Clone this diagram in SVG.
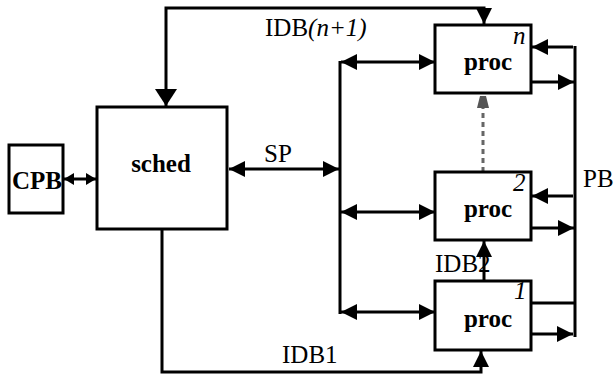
<svg xmlns="http://www.w3.org/2000/svg" width="615" height="375" viewBox="0 0 615 375">
  <style>
    .box { fill: #fff; stroke: #000; stroke-width: 3; }
    .wire { fill: none; stroke: #000; stroke-width: 3; }
    .dash { fill: none; stroke: #666; stroke-width: 3; stroke-dasharray: 5 4; }
    .lbl { font-family: "Liberation Serif", "Times New Roman", serif; font-size: 25px; fill: #000; }
    .bold { font-weight: bold; }
    .it { font-style: italic; }
  </style>
  <defs>
    <marker id="arr" markerUnits="userSpaceOnUse" viewBox="0 0 16 16" markerWidth="16" markerHeight="16" refX="16" refY="8" orient="auto-start-reverse">
      <path d="M0,0 L16,8 L0,16 z" fill="#000"/>
    </marker>
    <marker id="arrBig" markerUnits="userSpaceOnUse" viewBox="0 0 17 22" markerWidth="17" markerHeight="22" refX="17" refY="11" orient="auto-start-reverse">
      <path d="M0,0 L17,11 L0,22 z" fill="#000"/>
    </marker>
    <marker id="arrSmall" markerUnits="userSpaceOnUse" viewBox="0 0 10 12" markerWidth="10" markerHeight="12" refX="10" refY="6" orient="auto-start-reverse">
      <path d="M0,0 L10,6 L0,12 z" fill="#000"/>
    </marker>
    <marker id="arrGrey" markerUnits="userSpaceOnUse" viewBox="0 0 14 12" markerWidth="14" markerHeight="12" refX="12" refY="6" orient="auto">
      <path d="M0,0 L12,3 L12,9 L0,12 z" fill="#555"/>
    </marker>
  </defs>

  <!-- buses and links -->
  <g id="connectors">
    <!-- IDB(n+1): loop from proc n back into sched -->
    <path class="wire" d="M166,106 V8 H484 V24" marker-start="url(#arrBig)" marker-end="url(#arr)"/>
    <!-- IDB1: sched down and round into proc 1 -->
    <path class="wire" d="M162,229 V372 H481 V351" marker-end="url(#arr)"/>
    <!-- CPB <-> sched -->
    <path class="wire" d="M64,179 H96" marker-start="url(#arrSmall)" marker-end="url(#arrSmall)"/>
    <!-- SP: sched <-> left bus -->
    <path class="wire" d="M229,169 H339" marker-start="url(#arr)" marker-end="url(#arr)"/>
    <!-- left bus -->
    <path class="wire" d="M340,61 V314"/>
    <path class="wire" d="M341,62 H435" marker-start="url(#arr)" marker-end="url(#arr)"/>
    <path class="wire" d="M341,212 H435" marker-start="url(#arr)" marker-end="url(#arr)"/>
    <path class="wire" d="M341,312 H435" marker-start="url(#arr)" marker-end="url(#arr)"/>
    <!-- PB bus -->
    <path class="wire" d="M575,46 V337"/>
    <path class="wire" d="M573,47 H532" marker-end="url(#arr)"/>
    <path class="wire" d="M531,82 H574" marker-end="url(#arr)"/>
    <path class="wire" d="M573,196 H532" marker-end="url(#arr)"/>
    <path class="wire" d="M531,228 H574" marker-end="url(#arr)"/>
    <path class="wire" d="M531,303 H575"/>
    <path class="wire" d="M531,334 H573" marker-end="url(#arr)"/>
    <!-- IDB2: proc 1 -> proc 2 -->
    <path class="wire" d="M484,281 V241" marker-end="url(#arr)"/>
    <!-- elided chain proc 2 ... proc n -->
    <path class="dash" d="M483,172 V96" marker-end="url(#arrGrey)"/>

    <text class="lbl" x="264" y="162">SP</text>
    <text class="lbl" x="265" y="36">IDB<tspan class="it">(n+1)</tspan></text>
    <text class="lbl" x="435" y="272">IDB2</text>
    <text class="lbl" x="282" y="363">IDB1</text>
    <text class="lbl" x="583" y="187">PB</text>
  </g>

  <g id="cpb">
    <rect class="box" x="9" y="145" width="54" height="68"/>
    <text class="lbl bold" x="37" y="189" text-anchor="middle">CPB</text>
  </g>

  <g id="sched">
    <rect class="box" x="97" y="107" width="130" height="122"/>
    <text class="lbl bold" x="161" y="172" text-anchor="middle">sched</text>
  </g>

  <g id="proc-n">
    <rect class="box" x="435" y="25" width="96" height="68"/>
    <text class="lbl bold" x="488" y="70" text-anchor="middle">proc</text>
    <text class="lbl it" x="513" y="44">n</text>
  </g>

  <g id="proc-2">
    <rect class="box" x="435" y="172" width="96" height="68"/>
    <text class="lbl bold" x="488" y="217" text-anchor="middle">proc</text>
    <text class="lbl it" x="513" y="191">2</text>
  </g>

  <g id="proc-1">
    <rect class="box" x="435" y="281" width="96" height="69"/>
    <text class="lbl bold" x="488" y="327" text-anchor="middle">proc</text>
    <text class="lbl it" x="514" y="299">1</text>
  </g>
</svg>
